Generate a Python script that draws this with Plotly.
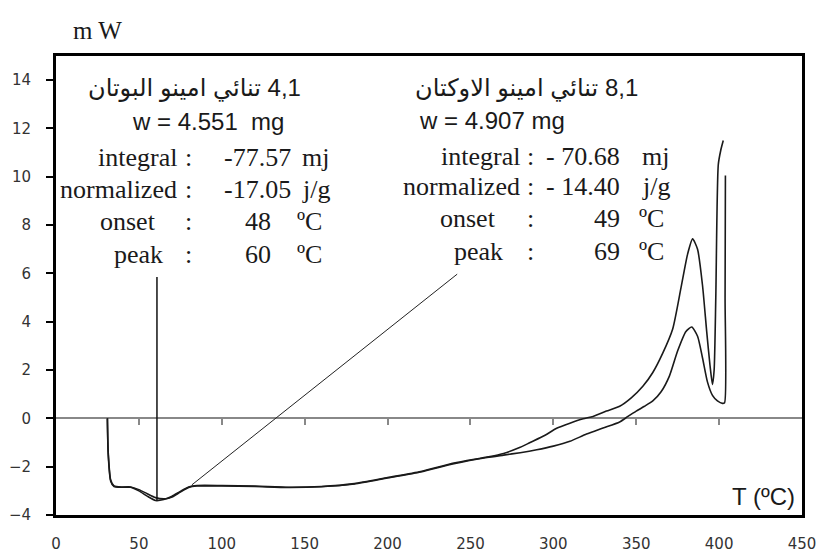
import plotly.graph_objects as go

# DSC heat-flow curves (mW) against temperature (ºC)
t_butane = [31, 31.5, 33, 35, 40, 45, 50, 55, 60, 65, 70, 75, 80, 85, 100, 120, 140, 160,
            180, 200, 220, 240, 260, 270, 280, 286, 295, 302, 310, 318, 324, 332, 340, 347,
            354, 360, 366, 372, 377, 381, 384, 387, 390, 392.5, 394.5, 396, 397, 398, 399.5,
            401, 402.5]
mw_butane = [0, -1.5, -2.6, -2.82, -2.85, -2.85, -3.0, -3.22, -3.4, -3.36, -3.22, -3.02, -2.84,
             -2.78, -2.78, -2.8, -2.85, -2.82, -2.7, -2.45, -2.2, -1.85, -1.6, -1.45, -1.2,
             -1.0, -0.7, -0.41, -0.2, -0.02, 0.08, 0.3, 0.5, 0.85, 1.33, 1.9, 2.7, 3.7, 5.4,
             6.8, 7.43, 7.0, 5.5, 3.6, 2.2, 1.4, 2.0, 5.0, 10.5, 11.1, 11.5]

t_octane = [31, 31.5, 33, 35, 40, 45, 50, 55, 60, 66, 70, 75, 80, 85, 100, 120, 140, 160,
            180, 200, 220, 240, 260, 270, 280, 290, 300, 310, 320, 330, 340, 345, 350, 355,
            360, 365, 370, 375, 380, 383.5, 387, 390, 393, 396, 399, 402, 403.3, 403.6, 403.8]
mw_octane = [0, -1.4, -2.55, -2.8, -2.84, -2.84, -2.95, -3.12, -3.28, -3.33, -3.26, -3.05,
             -2.86, -2.8, -2.8, -2.82, -2.86, -2.83, -2.72, -2.47, -2.22, -1.88, -1.62, -1.52,
             -1.42, -1.3, -1.15, -0.95, -0.65, -0.4, -0.15, 0.08, 0.3, 0.5, 0.72, 1.1, 1.75,
             2.8, 3.6, 3.78, 3.4, 2.5, 1.5, 0.95, 0.72, 0.62, 0.65, 5.0, 10.05]

# leader lines from the peak minima to the two text blocks
lead_butane_t = [60.9, 60.9]
lead_butane_mw = [-3.38, 5.85]
lead_octane_t = [82, 242]
lead_octane_mw = [-2.75, 5.97]

x_ticks = [0, 50, 100, 150, 200, 250, 300, 350, 400, 450]
zero_ticks = [50, 100, 150, 200, 250, 300, 350, 400]
y_ticks = [-4, -2, 0, 2, 4, 6, 8, 10, 12, 14]

fig = go.Figure()
for t, mw in [(t_butane, mw_butane), (t_octane, mw_octane)]:
    fig.add_trace(go.Scatter(x=t, y=mw, mode="lines",
                             line=dict(color="#1a1a1a", width=1.6, shape="spline", smoothing=0.6),
                             hoverinfo="skip"))
fig.add_trace(go.Scatter(x=lead_butane_t, y=lead_butane_mw, mode="lines",
                         line=dict(color="#111", width=1.5), hoverinfo="skip"))
fig.add_trace(go.Scatter(x=lead_octane_t, y=lead_octane_mw, mode="lines",
                         line=dict(color="#222", width=1), hoverinfo="skip", xaxis="x2"))

SERIF = "Liberation Serif, Times New Roman, serif"
SANS = "Liberation Sans, Arial, DejaVu Sans"
ann = []


def txt(x, y, s, anchor="center", size=26, family=SERIF):
    ann.append(dict(x=x, y=y, xref="x", yref="y", text=s, showarrow=False,
                    xanchor=anchor, yanchor="middle",
                    font=dict(family=family, size=size, color="#1a1a1a")))


# left block
txt(83.8, 13.68, "\u200f4,1 تنائي امينو البوتان", size=24, family=SANS)
txt(91.7, 12.27, "w = 4.551&nbsp;&nbsp;mg", size=24, family=SANS)
rows_l = [10.78, 9.49, 8.17, 6.80]
for lab, xr, y in zip(["integral", "normalized", "onset", "peak"], [74.2, 74.2, 61.5, 65.7], rows_l):
    txt(xr, y, lab, "right")
    txt(80.2, y, ":")
for val, unit, xr, xu, y in zip(["-77.57", "-17.05", "48", "60"], ["mj", "j/g", "ºC", "ºC"],
                                [143, 143, 130.9, 130.9], [147.2, 147.2, 144.2, 144.2], rows_l):
    txt(xr, y, val, "right")
    txt(xu, y, unit, "left")

# right block
txt(284.1, 13.68, "\u200f8,1 تنائي امينو الاوكتان", size=24, family=SANS)
txt(217.8, 12.35, "w = 4.907 mg", "left", size=24, family=SANS)
rows_r = [10.82, 9.58, 8.29, 6.9]
for lab, xr, y in zip(["integral", "normalized", "onset", "peak"], [281.1, 281.1, 266.6, 270.8], rows_r):
    txt(xr, y, lab, "right")
    txt(286.5, y, ":")
for val, unit, xr, xu, y in zip(["- 70.68", "- 14.40", "49", "69"], ["mj", "j/g", "ºC", "ºC"],
                                [341.4, 341.4, 341.4, 341.4], [352.3, 352.3, 350.4, 350.4], rows_r):
    txt(xr, y, val, "right")
    txt(xu, y, unit, "left")

txt(447, -3.25, "T (ºC)", "right", size=24, family=SANS)

ann.append(dict(x=0.055, y=1.0566, xref="paper", yref="paper", text="m W", showarrow=False,
                xanchor="center", yanchor="middle",
                font=dict(family=SERIF, size=25, color="#1a1a1a")))

tickfont = dict(family="DejaVu Sans, Verdana", size=15, color="#333")
fig.update_layout(
    width=830, height=556,
    margin=dict(l=56, r=28, t=56, b=41, autoexpand=False),
    paper_bgcolor="white", plot_bgcolor="white",
    showlegend=False,
    annotations=ann,
    xaxis=dict(range=[0, 450], tickvals=x_ticks, ticks="", showline=True, linewidth=3,
               linecolor="black", mirror=True, showgrid=False, zeroline=False,
               tickfont=tickfont, ticklabelstandoff=13, automargin=False),
    xaxis2=dict(range=[0, 450], overlaying="x", anchor="free", position=4 / 19, side="bottom",
                tickvals=zero_ticks, ticks="outside", ticklen=6, tickwidth=1.5, tickcolor="#888",
                showline=True, linecolor="#888", linewidth=1.5, showticklabels=False,
                showgrid=False, zeroline=False, layer="below traces", automargin=False),
    yaxis=dict(range=[-4, 15], tickvals=y_ticks, ticks="outside", ticklen=7, tickwidth=2,
               tickcolor="black", showline=True, linewidth=3, linecolor="black", mirror=True,
               showgrid=False, zeroline=False, tickfont=tickfont, ticklabelstandoff=12,
               automargin=False),
)

fig.write_html("out.html")
